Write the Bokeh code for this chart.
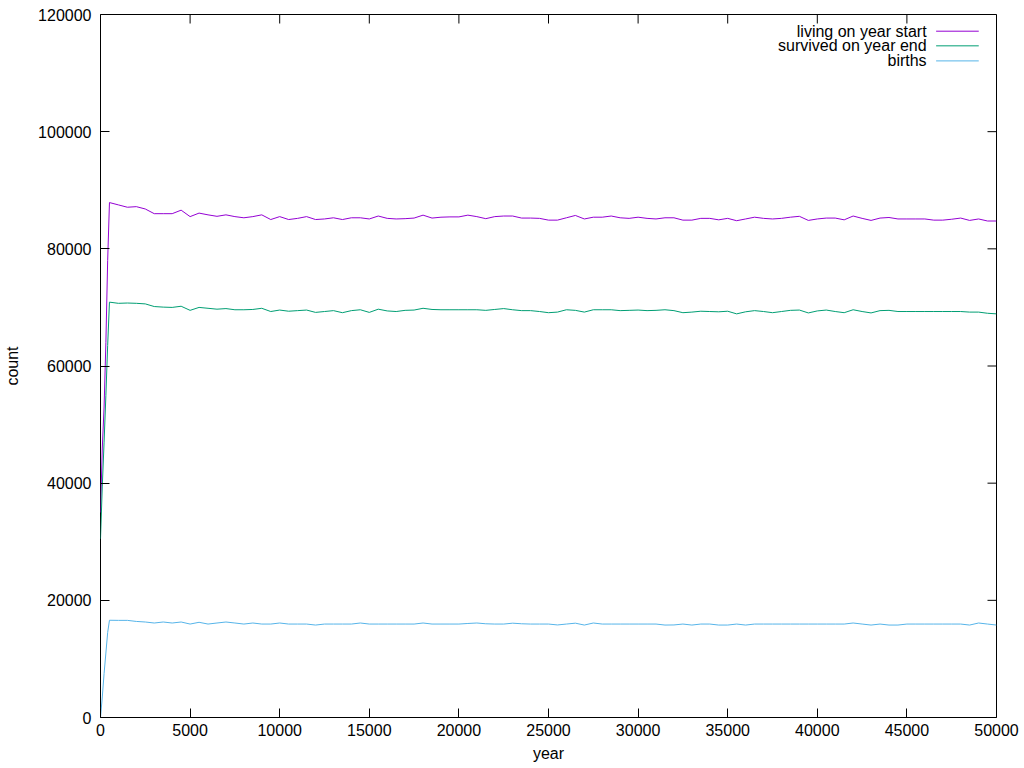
from bokeh.plotting import figure
from bokeh.models import (FixedTicker, BasicTickFormatter, Range1d,
                          Label, Arrow, ColumnDataSource)
from bokeh.embed import file_html
from bokeh.resources import INLINE

# ---- data ----
years = [0, 100, 200, 300, 400] + list(range(500, 50001, 500))

living_start = [35000, 46000, 53000, 64000, 78000,
    87900, 87500, 87100, 87200, 86800, 86000, 86000, 86000, 86600, 85500,
    86100, 85800, 85550, 85800, 85500, 85300, 85500, 85800, 85000, 85500,
    85000, 85200, 85500, 85000, 85100, 85300, 85000, 85300, 85300, 85100,
    85600, 85200, 85100, 85150, 85250, 85750, 85250, 85400, 85450, 85450,
    85750, 85500, 85150, 85500, 85600, 85600, 85250, 85250, 85200, 84900,
    84900, 85300, 85700, 85100, 85400, 85400, 85600, 85300, 85200, 85400,
    85200, 85100, 85300, 85300, 84900, 84900, 85200, 85200, 84950, 85200,
    84800, 85100, 85400, 85200, 85100, 85200, 85400, 85550, 84850, 85100,
    85250, 85250, 84950, 85600, 85200, 84850, 85250, 85350, 85100, 85100,
    85100, 85100, 84900, 84900, 85050, 85250, 84850, 85100, 84750, 84750]

survived_end = [30500, 39500, 47000, 55000, 63500,
    70900, 70700, 70750, 70700, 70600, 70150, 70050, 70000, 70200, 69500,
    70000, 69850, 69700, 69800, 69600, 69600, 69650, 69850, 69300, 69550,
    69350, 69450, 69550, 69150, 69300, 69450, 69100, 69450, 69600, 69150,
    69700, 69400, 69300, 69500, 69550, 69850, 69650, 69600, 69600, 69600,
    69600, 69600, 69500, 69650, 69800, 69600, 69450, 69450, 69300, 69100,
    69200, 69600, 69500, 69200, 69600, 69600, 69600, 69450, 69500, 69550,
    69450, 69500, 69600, 69450, 69100, 69200, 69350, 69300, 69250, 69350,
    68900, 69250, 69450, 69300, 69100, 69300, 69500, 69550, 69060, 69400,
    69550, 69300, 69100, 69600, 69300, 69060, 69450, 69500, 69300, 69300,
    69300, 69300, 69300, 69300, 69300, 69300, 69200, 69200, 69000, 68900]

births = [0, 3500, 7500, 11000, 14500,
    16600, 16580, 16580, 16400, 16300, 16130, 16300, 16130, 16300, 15950,
    16250, 15950, 16130, 16300, 16130, 15950, 16130, 15950, 15950, 16130,
    15950, 15950, 15950, 15780, 15950, 15950, 15950, 15950, 16130, 15950,
    15950, 15950, 15950, 15950, 15950, 16130, 15950, 15950, 15950, 15950,
    16050, 16130, 16000, 15950, 15950, 16100, 16000, 15950, 15950, 15950,
    15800, 15950, 16100, 15780, 16130, 15950, 15950, 15950, 15950, 15950,
    15950, 15950, 15780, 15800, 15950, 15780, 15950, 15950, 15780, 15780,
    15950, 15780, 15950, 15950, 15950, 15950, 15950, 15950, 15950, 15950,
    15950, 15950, 15950, 16130, 15950, 15780, 15950, 15780, 15780, 15950,
    15950, 15950, 15950, 15950, 15950, 15950, 15780, 16130, 15950, 15780]

series_names = ["living on year start", "survived on year end", "births"]
series_colors = ["#9400D3", "#009E73", "#56B4E9"]

x_ticks = [0, 5000, 10000, 15000, 20000, 25000, 30000, 35000, 40000, 45000, 50000]
y_ticks = [0, 20000, 40000, 60000, 80000, 100000, 120000]

X_MAX, Y_MAX = 50000, 120000
FONT = "Liberation Sans"
FS = "16px"

src = ColumnDataSource(dict(year=years, living=living_start,
                            survived=survived_end, births=births))

p = figure(width=1024, height=768, output_backend="svg", toolbar_location=None,
           x_range=Range1d(0, X_MAX), y_range=Range1d(0, Y_MAX),
           x_axis_label="year", y_axis_label="count",
           min_border_left=100, min_border_right=28, min_border_top=14,
           min_border_bottom=51)
p.grid.visible = False
p.outline_line_color = "black"
p.outline_line_width = 1
p.background_fill_color = "white"
p.border_fill_color = "white"

for col, c in zip(["living", "survived", "births"], series_colors):
    p.line("year", col, source=src, line_color=c, line_width=1)

def style_axis(ax, ticks):
    ax.ticker = FixedTicker(ticks=ticks)
    ax.formatter = BasicTickFormatter(use_scientific=False)
    ax.axis_line_color = None
    ax.major_tick_in = 9
    ax.major_tick_out = 0
    ax.minor_tick_in = 0
    ax.minor_tick_out = 0
    ax.major_tick_line_color = "black"
    ax.major_label_text_font = FONT
    ax.major_label_text_font_size = FS
    ax.major_label_text_color = "black"
    ax.axis_label_text_font = FONT
    ax.axis_label_text_font_size = FS
    ax.axis_label_text_font_style = "normal"
    ax.axis_label_text_color = "black"

style_axis(p.xaxis[0], x_ticks)
style_axis(p.yaxis[0], y_ticks)
p.xaxis[0].major_label_standoff = 6
p.xaxis[0].axis_label_standoff = 6
p.yaxis[0].major_label_standoff = 9
p.yaxis[0].axis_label_standoff = 14

# mirrored inward ticks on top and right frame edges (9 px long)
frame_w, frame_h = 896, 703
tick_dy = 9 * Y_MAX / frame_h
tick_dx = 9 * X_MAX / frame_w
p.segment(x0=x_ticks, y0=[Y_MAX] * len(x_ticks), x1=x_ticks,
          y1=[Y_MAX - tick_dy] * len(x_ticks), line_color="black", line_width=1)
p.segment(x0=[X_MAX] * len(y_ticks), y0=y_ticks, x1=[X_MAX - tick_dx] * len(y_ticks),
          y1=y_ticks, line_color="black", line_width=1)

# legend (gnuplot style: text right-aligned, sample line to the right)
leg_y = [117150, 114650, 112080]
for name, c, yy in zip(series_names, series_colors, leg_y):
    p.add_layout(Label(x=46100, y=yy, text=name, text_align="right",
                       text_baseline="middle", text_font=FONT,
                       text_font_size=FS, text_color="black"))
    p.add_layout(Arrow(end=None, x_start=46630, y_start=yy, x_end=49010,
                       y_end=yy, line_color=c, line_width=1))

open("out.html", "w").write(file_html(p, INLINE))
